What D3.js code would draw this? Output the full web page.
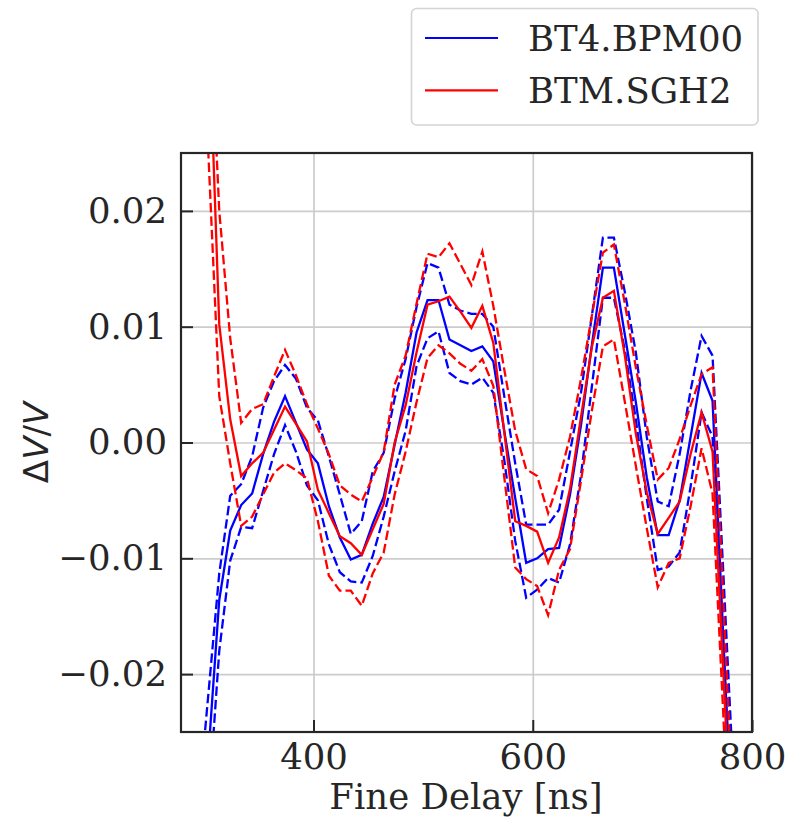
<!DOCTYPE html>
<html>
<head>
<meta charset="utf-8">
<script src="https://cdn.jsdelivr.net/npm/d3@7"></script>
<style>
    body { margin: 0; background: #fff; }
    .grid line { stroke: #cccccc; stroke-width: 1.7; }
    .grid path { display: none; }
    .ticks path { display: none; }
    .ticks line { stroke: #262626; stroke-width: 2; }
    .ticks text { font-family: "DejaVu Serif", serif; font-size: 35.5px; fill: #262626; }
</style>
</head>
<body>
<div id="chart"></div>
<script>
// fine delay values (ns)
var delay = [300, 314, 324, 334, 344, 354, 364, 374, 384, 394,
    404, 414, 424, 434, 444, 454, 464, 474, 484, 494,
    504, 514, 524, 534, 544, 554, 564, 574, 584, 594,
    604, 614, 624, 634, 644, 654, 664, 674, 684, 694,
    704, 714, 724, 734, 744, 754, 764, 783];

// BT4.BPM00 mean and +/- band
var bpmMean = [-0.0324, -0.0136, -0.0076, -0.0054, -0.0044, -0.0010, 0.0018, 0.0040, 0.0017, -0.0006,
    -0.0018, -0.0055, -0.0082, -0.0101, -0.0097, -0.0070, -0.0047, -0.0002, 0.0043, 0.0095,
    0.0123, 0.0123, 0.0089, 0.0084, 0.0079, 0.0083, 0.0070, 0.0010, -0.0048, -0.0104,
    -0.0100, -0.0092, -0.0091, -0.0045, 0.0015, 0.0085, 0.0151, 0.0151, 0.0093, 0.0035,
    -0.0030, -0.0080, -0.0080, -0.0050, 0.0005, 0.0060, 0.0036, -0.0359];
var bpmUpper = [-0.0260, -0.0113, -0.0046, -0.0036, -0.0012, 0.0030, 0.0053, 0.0067, 0.0055, 0.0030,
    0.0019, -0.0012, -0.0045, -0.0079, -0.0068, -0.0025, -0.0009, 0.0038, 0.0072, 0.0117,
    0.0155, 0.0151, 0.0119, 0.0114, 0.0111, 0.0111, 0.0100, 0.0040, -0.0018, -0.0071,
    -0.0071, -0.0071, -0.0058, -0.0008, 0.0043, 0.0110, 0.0177, 0.0177, 0.0130, 0.0078,
    0.0005, -0.0051, -0.0055, -0.0010, 0.0045, 0.0092, 0.0075, -0.0288];
var bpmLower = [-0.0370, -0.0180, -0.0102, -0.0073, -0.0074, -0.0042, -0.0010, 0.0015, -0.0008, -0.0037,
    -0.0050, -0.0088, -0.0112, -0.0120, -0.0121, -0.0098, -0.0064, -0.0025, 0.0010, 0.0066,
    0.0090, 0.0096, 0.0060, 0.0053, 0.0050, 0.0056, 0.0043, -0.0015, -0.0085, -0.0134,
    -0.0127, -0.0117, -0.0121, -0.0088, -0.0028, 0.0049, 0.0125, 0.0125, 0.0080, 0.0020,
    -0.0048, -0.0110, -0.0107, -0.0095, -0.0038, 0.0026, 0.0005, -0.0348];

// BTM.SGH2 mean and +/- band
var sghMean = [0.0483, 0.0102, 0.0020, -0.0029, -0.0018, -0.0009, 0.0011, 0.0031, 0.0016, 0.0001,
    -0.0041, -0.0061, -0.0081, -0.0087, -0.0097, -0.0075, -0.0053, 0.0000, 0.0032, 0.0078,
    0.0119, 0.0122, 0.0126, 0.0113, 0.0099, 0.0118, 0.0086, 0.0009, -0.0068, -0.0072,
    -0.0077, -0.0104, -0.0082, -0.0040, 0.0022, 0.0083, 0.0125, 0.0131, 0.0075, 0.0008,
    -0.0043, -0.0079, -0.0065, -0.0051, -0.0010, 0.0026, -0.0008, -0.0376];
var sghUpper = [0.0488, 0.0200, 0.0090, 0.0017, 0.0029, 0.0033, 0.0057, 0.0080, 0.0058, 0.0033,
    0.0012, -0.0010, -0.0037, -0.0045, -0.0051, -0.0030, -0.0008, 0.0050, 0.0075, 0.0120,
    0.0163, 0.0160, 0.0172, 0.0154, 0.0136, 0.0165, 0.0118, 0.0063, 0.0010, -0.0023,
    -0.0029, -0.0061, -0.0032, 0.0005, 0.0055, 0.0110, 0.0164, 0.0171, 0.0120, 0.0065,
    0.0015, -0.0032, -0.0022, 0.0003, 0.0032, 0.0059, 0.0065, -0.0324];
var sghLower = [0.0335, 0.0040, -0.0018, -0.0072, -0.0064, -0.0045, -0.0026, -0.0018, -0.0024, -0.0031,
    -0.0068, -0.0115, -0.0128, -0.0128, -0.0141, -0.0113, -0.0095, -0.0045, -0.0008, 0.0035,
    0.0073, 0.0084, 0.0077, 0.0068, 0.0062, 0.0072, 0.0049, -0.0030, -0.0108, -0.0118,
    -0.0124, -0.0149, -0.0110, -0.0092, -0.0033, 0.0028, 0.0083, 0.0089, 0.0035, -0.0020,
    -0.0074, -0.0125, -0.0104, -0.0100, -0.0055, -0.0005, -0.0044, -0.0414];

var legendLabels = ["BT4.BPM00", "BTM.SGH2"];
var xTicks = [400, 600, 800];
var yTicks = [-0.02, -0.01, 0.00, 0.01, 0.02];
var yTickLabels = ["\u22120.02", "\u22120.01", "0.00", "0.01", "0.02"];

// plot box inside the 789x819 figure
var box = { left: 181, right: 752, top: 153, bottom: 732 };

var svg = d3.select("#chart").append("svg")
    .attr("width", 789)
    .attr("height", 819);

var x = d3.scaleLinear()
    .domain([279.1, 800])
    .range([box.left, box.right]);

var y = d3.scaleLinear()
    .domain([-0.025, 0.025])
    .range([box.bottom, box.top]);

var plotW = box.right - box.left,
    plotH = box.bottom - box.top;

// grid lines
svg.append("g")
    .attr("class", "grid")
    .attr("transform", "translate(0," + box.bottom + ")")
    .call(d3.axisBottom(x).tickValues(xTicks).tickSize(-plotH).tickFormat(""));

svg.append("g")
    .attr("class", "grid")
    .attr("transform", "translate(" + box.left + ",0)")
    .call(d3.axisLeft(y).tickValues(yTicks).tickSize(-plotW).tickFormat(""));

// clip the curves to the axes box
svg.append("clipPath")
    .attr("id", "clip")
    .append("rect")
    .attr("x", box.left)
    .attr("y", box.top)
    .attr("width", plotW)
    .attr("height", plotH);

var line = d3.line()
    .x(function(d) { return x(d[0]); })
    .y(function(d) { return y(d[1]); });

var series = [
    { values: bpmMean, color: "#0000ff", dashed: false },
    { values: bpmUpper, color: "#0000ff", dashed: true },
    { values: bpmLower, color: "#0000ff", dashed: true },
    { values: sghMean, color: "#ff0000", dashed: false },
    { values: sghUpper, color: "#ff0000", dashed: true },
    { values: sghLower, color: "#ff0000", dashed: true }
];

var curves = svg.append("g").attr("clip-path", "url(#clip)");

series.forEach(function(s) {
    curves.append("path")
        .datum(d3.zip(delay, s.values))
        .attr("fill", "none")
        .attr("stroke", s.color)
        .attr("stroke-width", 2.3)
        .attr("stroke-linejoin", "miter")
        .attr("stroke-dasharray", s.dashed ? "9.5,4" : null)
        .attr("d", line);
});

// ticks point inwards
svg.append("g")
    .attr("class", "ticks")
    .attr("transform", "translate(0," + box.bottom + ")")
    .call(d3.axisBottom(x).tickValues(xTicks).tickSize(-12).tickPadding(12)
        .tickFormat(d3.format("d")));

svg.append("g")
    .attr("class", "ticks")
    .attr("transform", "translate(" + box.left + ",0)")
    .call(d3.axisLeft(y).tickValues(yTicks).tickSize(-12).tickPadding(14)
        .tickFormat(function(d, i) { return yTickLabels[i]; }));

// frame
svg.append("rect")
    .attr("x", box.left)
    .attr("y", box.top)
    .attr("width", plotW)
    .attr("height", plotH)
    .attr("fill", "none")
    .attr("stroke", "#262626")
    .attr("stroke-width", 2.2);

// axis labels
svg.append("text")
    .attr("x", 466)
    .attr("y", 809)
    .attr("text-anchor", "middle")
    .style("font-family", "DejaVu Serif, serif")
    .style("font-size", "35.5px")
    .style("fill", "#262626")
    .text("Fine Delay [ns]");

var ylab = svg.append("text")
    .attr("transform", "translate(48," + ((box.top + box.bottom) / 2) + ") rotate(-90)")
    .attr("text-anchor", "middle")
    .style("font-family", "DejaVu Sans, sans-serif")
    .style("font-size", "34px")
    .style("fill", "#262626");
ylab.append("tspan").text("\u0394");
ylab.append("tspan").style("font-style", "italic").text("V");
ylab.append("tspan").text("/");
ylab.append("tspan").style("font-style", "italic").text("V");

// legend
var legend = svg.append("g");
legend.append("rect")
    .attr("x", 411.5)
    .attr("y", 8.5)
    .attr("width", 346.5)
    .attr("height", 116.5)
    .attr("rx", 5)
    .attr("fill", "#fff")
    .attr("stroke", "#d4d4d4")
    .attr("stroke-width", 1.6);

legendLabels.forEach(function(lab, i) {
    var cy = 38 + i * 52.3;
    legend.append("line")
        .attr("x1", 425)
        .attr("x2", 498)
        .attr("y1", cy)
        .attr("y2", cy)
        .attr("stroke", i == 0 ? "#0000ff" : "#ff0000")
        .attr("stroke-width", 2.2);
    legend.append("text")
        .attr("x", 528)
        .attr("y", cy + 12.5)
        .style("font-family", "DejaVu Serif, serif")
        .style("font-size", "35.5px")
        .style("fill", "#262626")
        .text(lab);
});
</script>
</body>
</html>
